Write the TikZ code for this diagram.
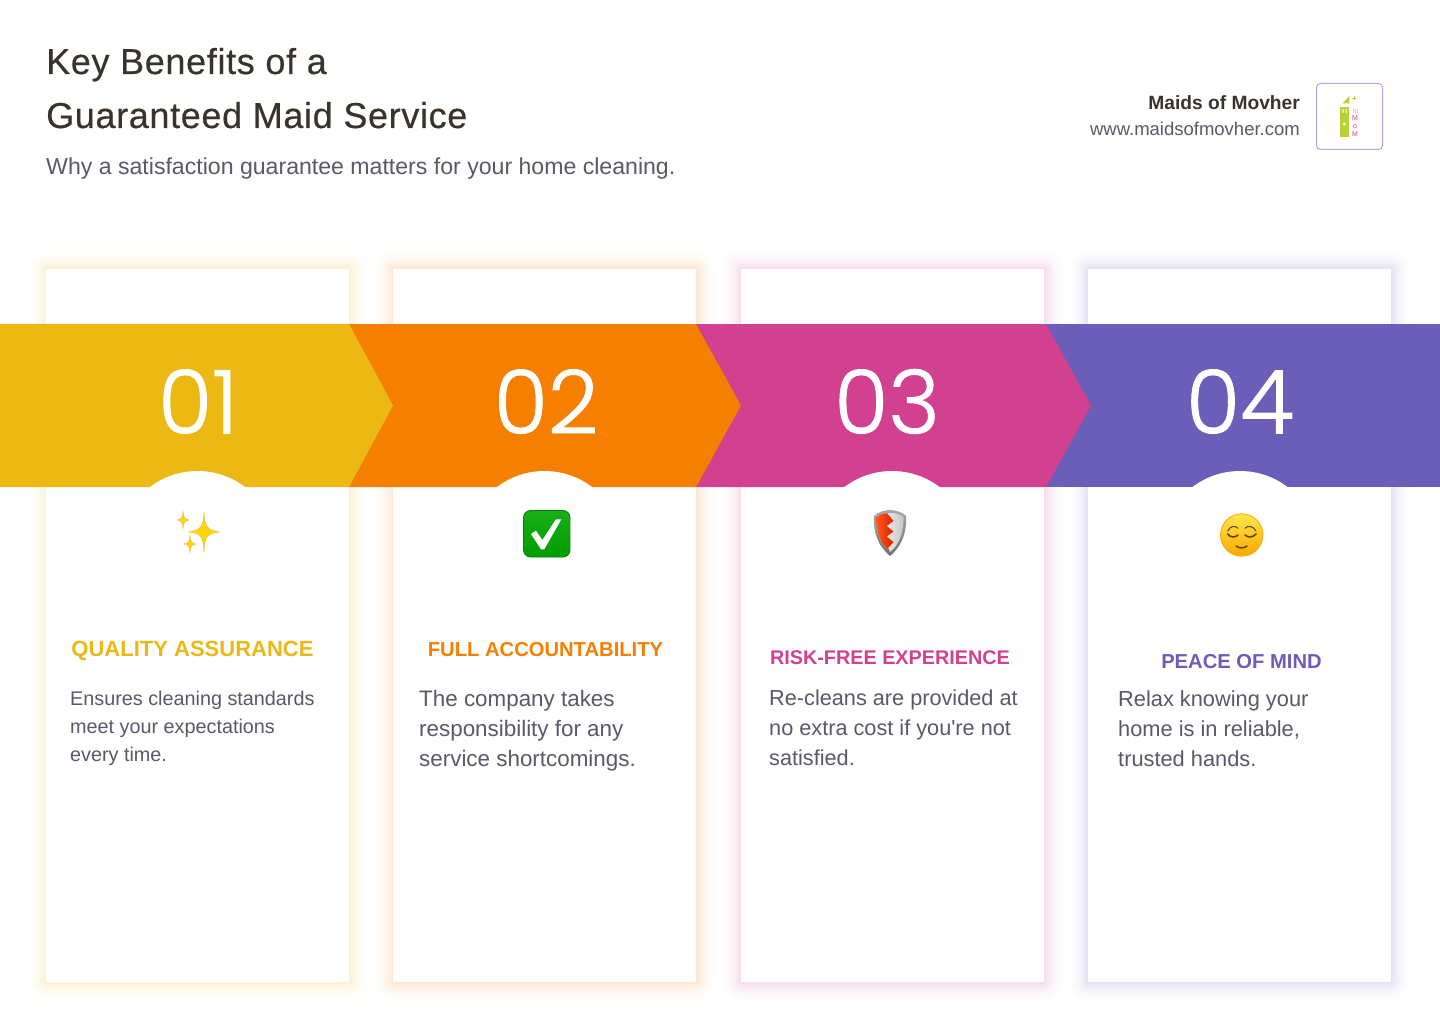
\documentclass[tikz,border=0pt]{standalone}
\usepackage{fontspec}
\setmainfont{Liberation Sans}
\newfontfamily\numfont{Poppins Light}[RawFeature={embolden=1}]
\newfontfamily\titlefont{Liberation Sans}[LetterSpace=1.8,RawFeature={embolden=.4}]
\definecolor{bandyellow}{HTML}{ECB914}
\definecolor{bandorange}{HTML}{F57F00}
\definecolor{bandpink}{HTML}{D14190}
\definecolor{bandpurple}{HTML}{6B5EB9}
\definecolor{inkdark}{HTML}{3A332D}
\definecolor{inkgrey}{HTML}{5B586B}
\definecolor{logogreen}{HTML}{B5D334}
\definecolor{logoline}{HTML}{ABA8F0}
\definecolor{facebrown}{HTML}{6B3F00}
\definecolor{facetop}{HTML}{FFE84A}
\definecolor{facebottom}{HTML}{F9A800}
\newcommand{\cardglow}[3]{\foreach \g in {20,19,...,1} {\pgfmathsetmacro{\mixp}{17*(1-\g/21)*(1-\g/21)+2*(1-\g/21)}\fill[#3!\mixp!white,rounded corners=\g pt] (#1-\g,269-\g) rectangle (#2+\g,982+\g);}}
\begin{document}
\begin{tikzpicture}[x=1pt,y=-1pt]
	\tikzstyle{card}=[fill=white,
		minimum width=303pt,
		minimum height=713pt,
		inner sep=0pt,
		];
	\tikzstyle{capdisc}=[circle,fill=white,minimum size=157pt,inner sep=0pt];
	\tikzstyle{bignum}=[text=white,inner sep=0pt,font=\numfont\fontsize{88}{88}\selectfont];
	\tikzstyle{head}=[anchor=base,inner sep=0pt,font=\bfseries\fontsize{20.2}{24}\selectfont];
	\tikzstyle{blurb}=[anchor=north west,align=left,inner sep=0pt,text=inkgrey,font=\fontsize{22}{30}\selectfont];
	\tikzstyle{spark}=[fill=yellow!75!orange,draw=orange!70,line width=.3pt];
	\tikzstyle{logotext}=[text=bandpink,inner sep=0pt,font=\fontsize{7}{7}\selectfont];

	\useasboundingbox (0,0) rectangle (1440,1024);
	\fill[white] (0,0) rectangle (1440,1024);

	\node (title1) [anchor=base west,inner sep=0pt,text=inkdark,font=\titlefont\fontsize{36}{36}\selectfont] at (46,74) {Key Benefits of a};
	\node (title2) [anchor=base west,inner sep=0pt,text=inkdark,font=\titlefont\fontsize{36}{36}\selectfont] at (46,128) {Guaranteed Maid Service};
	\node (subtitle) [anchor=base west,inner sep=0pt,text=inkgrey,font=\fontsize{23.1}{23}\selectfont] at (46,175) {Why a satisfaction guarantee matters for your home cleaning.};
	\node (brand) [anchor=base east,inner sep=0pt,text=inkdark,font=\bfseries\fontsize{19.2}{20}\selectfont] at (1300,110) {Maids of Movher};
	\node (site) [anchor=base east,inner sep=0pt,text=inkgrey,font=\fontsize{18.5}{18.5}\selectfont] at (1300,136) {www.maidsofmovher.com};

	\node (logobox) [draw=logoline,line width=1pt,fill=white,rounded corners=4pt,minimum width=66pt,minimum height=66pt] at (1349.5,116.5) {};
	\fill[logogreen] (1340,106.7) rectangle (1348.5,136.7);
	\fill[logogreen] (1342.7,103.3) -- (1349.3,96) -- (1349.3,103.3) -- cycle;
	\fill[white] (1342.5,109) rectangle (1343.5,113) (1345.5,109) rectangle (1346.5,113);
	\fill[white] (1344.5,124) circle (1.6pt);
	\draw[logogreen,line width=.5pt] (1354,96) -- (1354,100) (1352,98) -- (1356,98);
	\node (logoin) [logotext,text=logogreen] at (1355.5,110.7) {In};
	\node (logom) [logotext] at (1355,118) {M};
	\node (logoo) [logotext] at (1355,126.3) {o};
	\node (logomm) [logotext] at (1355,134.3) {M};

	\cardglow{46}{349}{bandyellow}
	\cardglow{393}{696}{bandorange}
	\cardglow{741}{1044}{bandpink}
	\cardglow{1088}{1391}{bandpurple}
	\node (card1) [card] at (197.5,625.5) {};
	\node (card2) [card] at (544.5,625.5) {};
	\node (card3) [card] at (892.5,625.5) {};
	\node (card4) [card] at (1239.5,625.5) {};

	\fill[bandpurple] (1046,324) -- (1440,324) -- (1440,487) -- (1046,487) -- cycle;
	\fill[bandpink] (696,324) -- (1046,324) -- (1091,405.5) -- (1046,487) -- (696,487) -- cycle;
	\fill[bandorange] (349,324) -- (696,324) -- (741,405.5) -- (696,487) -- (349,487) -- cycle;
	\fill[bandyellow] (0,324) -- (349,324) -- (393,405.5) -- (349,487) -- (0,487) -- cycle;

	\node (cap1) [capdisc] at (197.5,549.5) {};
	\node (cap2) [capdisc] at (544.5,549.5) {};
	\node (cap3) [capdisc] at (892,549.5) {};
	\node (cap4) [capdisc] at (1240,549.5) {};

	\node (num1) [bignum] at (198,401.5) {01};
	\node (num2) [bignum] at (546,401.5) {02};
	\node (num3) [bignum] at (887,401.5) {03};
	\node (num4) [bignum] at (1240,401.5) {04};

	% sparkles
	\fill[spark] (204,512) .. controls (205,526) and (206,530) .. (220,532) .. controls (206,533) and (205,538) .. (204,552) .. controls (203,538) and (202,533) .. (188,532) .. controls (202,530) and (203,526) .. (204,512) -- cycle;
	\fill[spark] (183,511) .. controls (183.5,517) and (184,519) .. (189,520) .. controls (184,521) and (183.5,523) .. (183,529) .. controls (182.5,523) and (182,521) .. (177,520) .. controls (182,519) and (182.5,517) .. (183,511) -- cycle;
	\fill[spark] (190,535) .. controls (190.5,541) and (191,543) .. (196,544) .. controls (191,545) and (190.5,547) .. (190,553) .. controls (189.5,547) and (189,545) .. (184,544) .. controls (189,543) and (189.5,541) .. (190,535) -- cycle;

	% check box
	\shade[top color=green!65!black!90!white,bottom color=green!62!black,draw=green!50!black,line width=.8pt,rounded corners=7pt] (523.5,510.5) rectangle (570,557);
	\fill[white] (531,534) -- (536,530.7) -- (542.3,540) -- (556,519.3) -- (561.3,519.3) -- (544.3,549.3) -- (541,549.3) -- cycle;

	% shield
	\shade[top color=gray!70,bottom color=gray!90!black] (890,510) .. controls (895,510) and (902,512) .. (906,516) .. controls (907,532) and (902,546) .. (890,556) .. controls (878,546) and (873,532) .. (874,516) .. controls (878,512) and (885,510) .. (890,510) -- cycle;
	\shade[left color=white,right color=gray!45] (890,513) .. controls (895,513) and (900,514) .. (903.5,517) .. controls (904,531) and (900,544) .. (890,552) .. controls (880,544) and (876,531) .. (876.5,517) .. controls (880,514) and (885,513) .. (890,513) -- cycle;
	\shade[left color=red!45!orange!90!white,right color=red!70!orange!85!black] (887,513.2) .. controls (882,513.5) and (879,515) .. (876.5,517) .. controls (876,531) and (880,544) .. (890,552) -- (888,548) -- (893.5,542) -- (886.7,536.5) -- (893.5,531.5) -- (886.7,526) -- (893.5,521) -- cycle;

	% face
	\shade[top color=facetop,bottom color=facebottom,draw=facebottom,line width=.8pt] (1241.7,535) circle (21.2pt);
	\draw[facebrown,line width=1pt,line cap=round] (1227.7,531) .. controls (1230,526) and (1235,525) .. (1238,528.3) (1245,528.3) .. controls (1248,525) and (1253,526) .. (1256,531);
	\draw[facebrown,line width=1.6pt,line cap=round] (1227.7,534) .. controls (1230,537.5) and (1235,538) .. (1238,535) (1245,535) .. controls (1248,538) and (1253,537.5) .. (1256,534);
	\draw[facebrown,line width=1.5pt,line cap=round] (1236,546) .. controls (1239,548.5) and (1244,548.5) .. (1247,546);

	\node (head1) [head,text=bandyellow,font=\bfseries\fontsize{22}{24}\selectfont] at (192.5,656) {QUALITY ASSURANCE};
	\node (head2) [head,text=bandorange] at (545.5,656) {FULL ACCOUNTABILITY};
	\node (head3) [head,text=bandpink,font=\bfseries\fontsize{19.8}{24}\selectfont] at (890,664) {RISK-FREE EXPERIENCE};
	\node (head4) [head,text=bandpurple] at (1241.5,668) {PEACE OF MIND};

	\node (blurb1) [blurb,font=\fontsize{19.8}{28}\selectfont] at (70,691) {Ensures cleaning standards\\meet your expectations\\every time.};
	\node (blurb2) [blurb,font=\fontsize{22.4}{30}\selectfont] at (419,690) {The company takes\\responsibility for any\\service shortcomings.};
	\node (blurb3) [blurb,font=\fontsize{21.7}{30}\selectfont] at (769,690) {Re-cleans are provided at\\no extra cost if you\textquotesingle re not\\satisfied.};
	\node (blurb4) [blurb,font=\fontsize{21.8}{30}\selectfont] at (1118,690) {Relax knowing your\\home is in reliable,\\trusted hands.};
\end{tikzpicture}
\end{document}
